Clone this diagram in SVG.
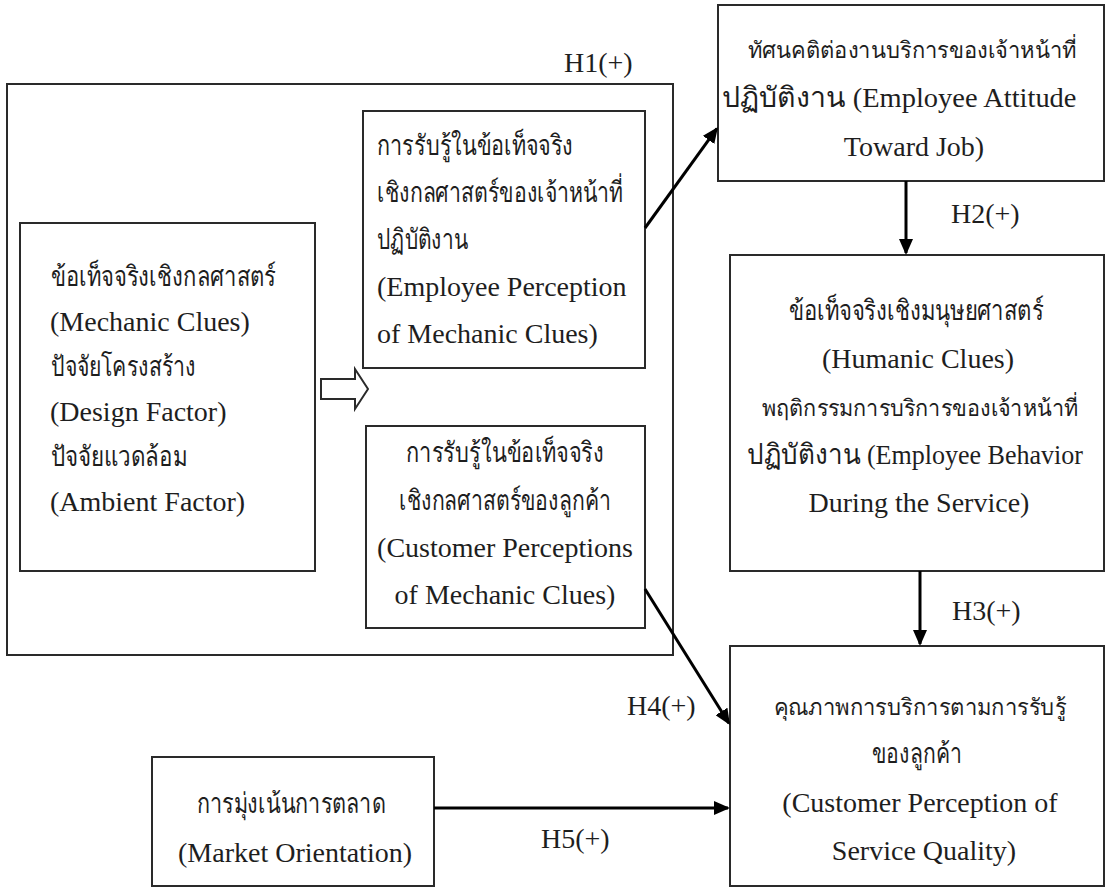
<svg xmlns="http://www.w3.org/2000/svg" width="1116" height="890" viewBox="0 0 1116 890">
<style>
.box{fill:none;stroke:#2a2a2a;stroke-width:2}
.t{font-family:"Liberation Serif","Noto Sans",serif;font-size:28px;fill:#1e1e1e}
.th{font-family:"Liberation Serif","Noto Sans",serif;font-size:28px;fill:#1e1e1e}
.thl{font-size:23px}
.c{text-anchor:middle}
.con{fill:none;stroke:#000;stroke-width:3}
</style>
<defs>
<marker id="ah" viewBox="0 0 16 14" refX="14" refY="7" markerWidth="16" markerHeight="14" orient="auto" markerUnits="userSpaceOnUse">
<path d="M0,0 L16,7 L0,14 z" fill="#000"/>
</marker>
</defs>
<rect width="1116" height="890" fill="#fff"/>

<g id="outer">
<rect class="box" x="7" y="84" width="666" height="571"/>
</g>

<g id="mechanic">
<rect class="box" x="20" y="223" width="295" height="348"/>
<text class="th" x="51" y="286" textLength="225" lengthAdjust="spacingAndGlyphs">ข้อเท็จจริงเชิงกลศาสตร์</text>
<text class="t" x="50" y="331">(Mechanic Clues)</text>
<text class="th" x="51" y="376" textLength="145" lengthAdjust="spacingAndGlyphs">ปัจจัยโครงสร้าง</text>
<text class="t" x="50" y="421">(Design Factor)</text>
<text class="th" x="51" y="466" textLength="136" lengthAdjust="spacingAndGlyphs">ปัจจัยแวดล้อม</text>
<text class="t" x="50" y="511">(Ambient Factor)</text>
</g>

<g id="employee-perception">
<rect class="box" x="363" y="111" width="282" height="257"/>
<text class="th" x="377" y="155" textLength="196" lengthAdjust="spacingAndGlyphs">การรับรู้ในข้อเท็จจริง</text>
<text class="th" x="377" y="202" textLength="246" lengthAdjust="spacingAndGlyphs">เชิงกลศาสตร์ของเจ้าหน้าที่</text>
<text class="th" x="377" y="249" textLength="91" lengthAdjust="spacingAndGlyphs">ปฏิบัติงาน</text>
<text class="t" x="377" y="296">(Employee Perception</text>
<text class="t" x="377" y="343">of Mechanic Clues)</text>
</g>

<g id="customer-perception">
<rect class="box" x="366" y="426" width="279" height="202"/>
<text class="th c" x="505" y="462" textLength="198" lengthAdjust="spacingAndGlyphs">การรับรู้ในข้อเท็จจริง</text>
<text class="th c" x="505" y="510" textLength="212" lengthAdjust="spacingAndGlyphs">เชิงกลศาสตร์ของลูกค้า</text>
<text class="t c" x="505" y="557">(Customer Perceptions</text>
<text class="t c" x="505" y="604">of Mechanic Clues)</text>
</g>

<g id="attitude">
<rect class="box" x="718" y="5" width="386" height="176"/>
<text class="th thl c" x="912" y="58" textLength="329" lengthAdjust="spacingAndGlyphs">ทัศนคติต่องานบริการของเจ้าหน้าที่</text>
<text class="t c" x="899" y="107" textLength="355" lengthAdjust="spacingAndGlyphs">ปฏิบัติงาน (Employee Attitude</text>
<text class="t c" x="914" y="156">Toward Job)</text>
</g>

<g id="humanic">
<rect class="box" x="730" y="255" width="374" height="316"/>
<text class="th c" x="916" y="320" textLength="255" lengthAdjust="spacingAndGlyphs">ข้อเท็จจริงเชิงมนุษยศาสตร์</text>
<text class="t c" x="918" y="368">(Humanic Clues)</text>
<text class="th thl c" x="920" y="416" textLength="316" lengthAdjust="spacingAndGlyphs">พฤติกรรมการบริการของเจ้าหน้าที่</text>
<text class="t c" x="915" y="464" textLength="336" lengthAdjust="spacingAndGlyphs">ปฏิบัติงาน (Employee Behavior</text>
<text class="t c" x="919" y="512">During the Service)</text>
</g>

<g id="service-quality">
<rect class="box" x="730" y="646" width="374" height="240"/>
<text class="th thl c" x="920" y="715" textLength="292" lengthAdjust="spacingAndGlyphs">คุณภาพการบริการตามการรับรู้</text>
<text class="th c" x="917" y="763" textLength="90" lengthAdjust="spacingAndGlyphs">ของลูกค้า</text>
<text class="t c" x="920" y="812">(Customer Perception of</text>
<text class="t c" x="924" y="860">Service Quality)</text>
</g>

<g id="market">
<rect class="box" x="152" y="757" width="282" height="129"/>
<text class="th c" x="291" y="813" textLength="189" lengthAdjust="spacingAndGlyphs">การมุ่งเน้นการตลาด</text>
<text class="t c" x="295" y="862">(Market Orientation)</text>
</g>

<g id="connectors">
<path d="M321,379 L355,379 L355,369 L368,389 L355,409 L355,399 L321,399 Z" fill="#fff" stroke="#2a2a2a" stroke-width="2"/>
<line class="con" x1="645" y1="228" x2="716.8" y2="128.6" marker-end="url(#ah)"/>
<line class="con" x1="906" y1="181" x2="906" y2="253" marker-end="url(#ah)"/>
<line class="con" x1="920" y1="571" x2="920" y2="644" marker-end="url(#ah)"/>
<line class="con" x1="645" y1="589" x2="728.9" y2="723.3" marker-end="url(#ah)"/>
<line class="con" x1="434" y1="808" x2="728" y2="808" marker-end="url(#ah)"/>
<text class="t" x="564" y="72">H1(+)</text>
<text class="t" x="951" y="223">H2(+)</text>
<text class="t" x="952" y="620">H3(+)</text>
<text class="t" x="627" y="715">H4(+)</text>
<text class="t" x="541" y="848">H5(+)</text>
</g>
</svg>
